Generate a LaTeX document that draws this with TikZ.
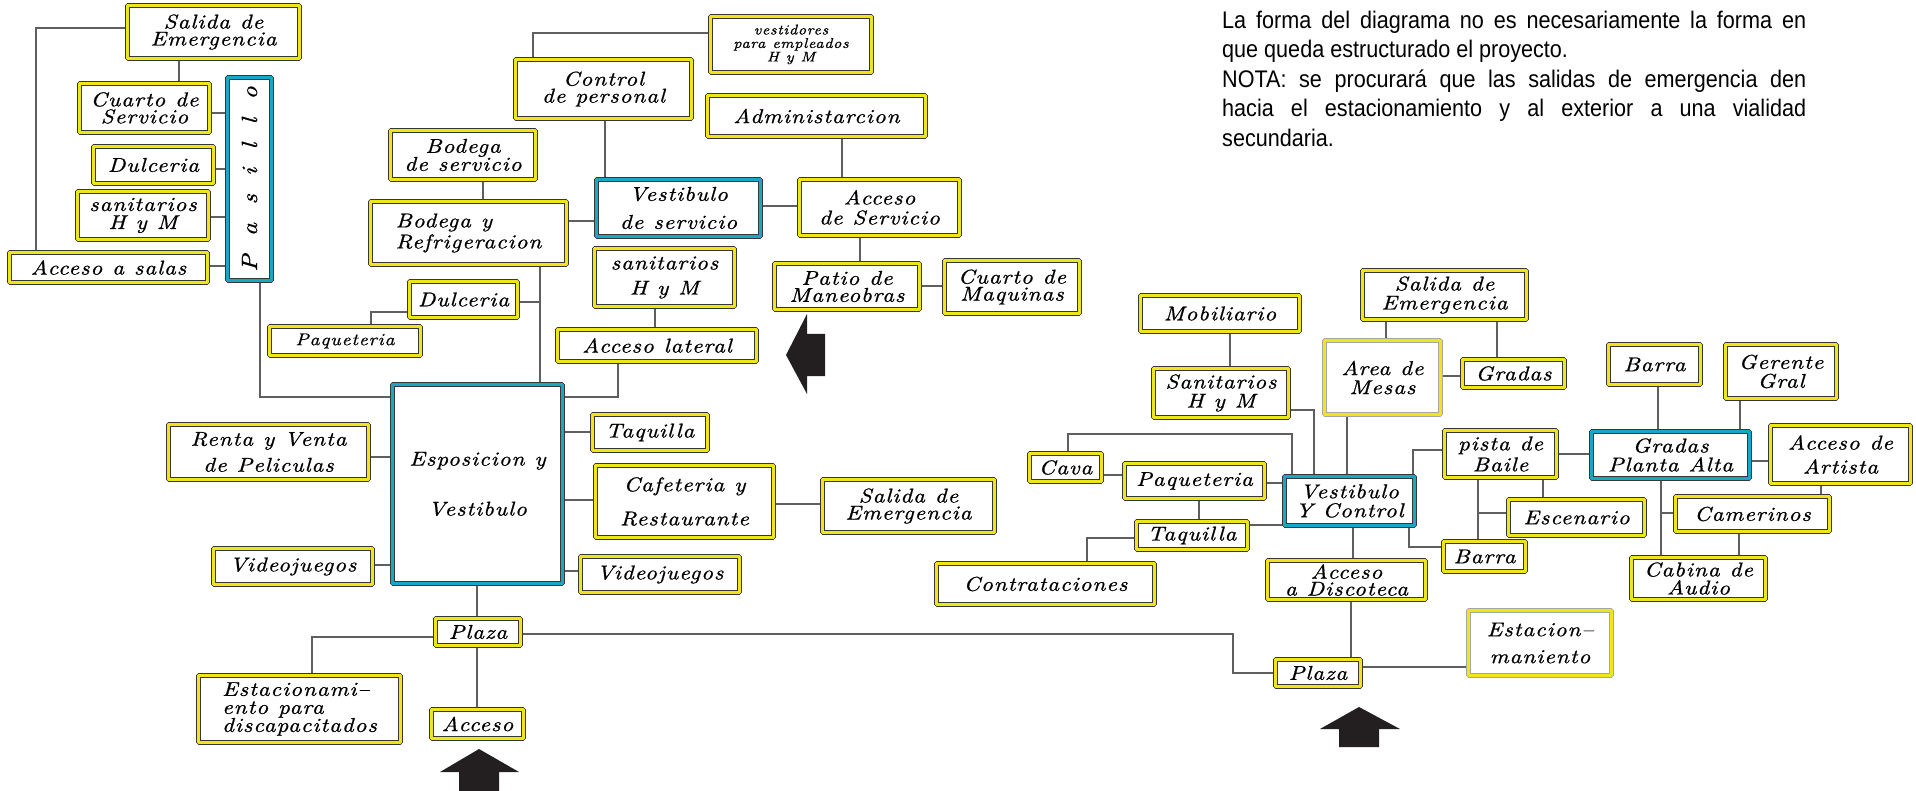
\documentclass[tikz,border=0pt]{standalone}
\usepackage{fontspec}
\usepackage{graphicx}
\usetikzlibrary{backgrounds, positioning}
\newfontfamily\boxfont{lmroman10-italic.otf}[LetterSpace=5, FakeStretch=1.15, FakeBold=0.8]
\newfontfamily\notefont{Liberation Sans}[FakeStretch=0.9]
\newcommand\boxspacing{\lineskiplimit=-50pt\relax\lineskip=0pt\relax\spaceskip=0.5em\relax}
\newcommand\pgap{\hspace{18.5pt}}
\definecolor{boxyellow}{RGB}{238,230,25}
\definecolor{boxblue}{RGB}{22,168,196}
\definecolor{boxline}{RGB}{55,55,55}
\definecolor{linkgray}{RGB}{95,95,95}
\definecolor{arrowblk}{RGB}{35,31,32}

\begin{document}
\begin{tikzpicture}[x=1pt, y=-1pt, line join=bevel,
    ybox/.style={draw=boxline, line width=0.8pt, double=boxyellow, double distance=3.6pt,
      fill=white, inner sep=0pt, align=center,
      font=\boxfont\fontsize{20pt}{20pt}\selectfont\boxspacing},
    bbox/.style={ybox, double=boxblue},
    lbox/.style={ybox, draw=black!35},
    wh/.style 2 args={minimum width=#1pt, minimum height=#2pt},
    ls/.style 2 args={font=\boxfont\fontsize{#1pt}{#2pt}\selectfont\boxspacing},
    link/.style={draw=linkgray, line width=1.2pt}]
             \useasboundingbox (0,0) rectangle (1916,791);
             %
             \node[ybox, wh={172}{53}, ls={20}{17}] (salidaA) at (213.5,32) {Salida de\\Emergencia};
             \node[ybox, wh={130}{49}, ls={20}{17}] (cuartoS) at (144.5,108) {Cuarto de\\Servicio};
             \node[ybox, wh={120}{37}] (dulceA) at (153.5,165) {Dulceria};
             \node[ybox, wh={131}{48}, ls={20}{18}] (sanitA) at (143,215.5) {sanitarios\\H y M};
             \node[ybox, wh={198}{30}] (accSalas) at (108.5,267.5) {Acceso a salas};
             \node[bbox, wh={44}{203}, ls={22}{22}] (pasillo) at (249.5,179)
               {\rotatebox{90}{P\pgap a\pgap s\pgap i\pgap l\pgap l\pgap o}};
             %
             \node[ybox, wh={176}{59}, ls={20}{17}] (control) at (603.5,89) {Control\\de personal};
             \node[ybox, wh={161}{56}, ls={14}{13.5}] (vestidores) at (791,44.5) {vestidores\\para empleados\\H y M};
             \node[ybox, wh={145}{49}, ls={20}{18}] (bodegaS) at (463,155) {Bodega\\de servicio};
             \node[bbox, wh={164}{57}, ls={20}{28}] (vestS) at (678.5,208) {Vestibulo\\de servicio};
             \node[ybox, wh={196}{63}, ls={20}{21}, align=left] (bodegaR) at (468.5,233) {Bodega y\\Refrigeracion};
             \node[ybox, wh={218}{41}] (admin) at (816.5,116) {Administarcion};
             \node[ybox, wh={160}{56}, ls={20}{20}] (accServ) at (879.5,207.5) {Acceso\\de Servicio};
             \node[ybox, wh={145}{46}, ls={20}{17}] (patio) at (847,286.5) {Patio de\\Maneobras};
             \node[ybox, wh={135}{53}, ls={20}{17}] (cuartoM) at (1012,287) {Cuarto de\\Maquinas};
             \node[ybox, wh={140}{58}, ls={20}{25}] (sanitB) at (664.5,277.5) {sanitarios\\H y M};
             \node[ybox, wh={108}{36}] (dulceB) at (463.5,299.5) {Dulceria};
             \node[ybox, wh={151}{29}, ls={17}{17}] (paqA) at (345,341) {Paqueteria};
             \node[ybox, wh={199}{32}] (accLat) at (657,345.5) {Acceso lateral};
             %
             \node[bbox, wh={170}{199}, ls={20}{50}] (expo) at (477.5,484) {Esposicion y\\Vestibulo};
             \node[ybox, wh={200}{55}, ls={20}{26}] (renta) at (268.5,452) {Renta y Venta\\de Peliculas};
             \node[ybox, wh={115}{36}] (taqA) at (650,432.5) {Taquilla};
             \node[ybox, wh={178}{72}, ls={20}{34}] (cafe) at (684.5,501.5) {Cafeteria y\\Restaurante};
             \node[ybox, wh={172}{53}, ls={20}{17}] (salidaB) at (908.5,506) {Salida de\\Emergencia};
             \node[ybox, wh={159}{36}] (videoA) at (293,566.5) {Videojuegos};
             \node[ybox, wh={159}{36}] (videoB) at (660,574.5) {Videojuegos};
             \node[ybox, wh={85}{27}] (plazaA) at (478,632) {Plaza};
             \node[ybox, wh={202}{67}, ls={20}{18}, align=left] (estacA) at (299.5,709) {Estacionami–\\ento para\\discapacitados};
             \node[ybox, wh={92}{29}] (acceso) at (477.5,724) {Acceso};
             %
             \node[ybox, wh={159}{36}] (mobil) at (1220,313.5) {Mobiliario};
             \node[ybox, wh={135}{49}, ls={20}{19}] (sanitC) at (1221,393) {Sanitarios\\H y M};
             \node[ybox, wh={164}{49}, ls={20}{19}] (salidaC) at (1444.5,295) {Salida de\\Emergencia};
             \node[lbox, wh={116}{74}, ls={20}{19}] (mesas) at (1382.5,377.5) {Area de\\Mesas};
             \node[ybox, wh={102}{28}] (gradas) at (1513.5,373.5) {Gradas};
             \node[ybox, wh={72}{28}] (cava) at (1065.5,467.5) {Cava};
             \node[ybox, wh={140}{35}] (paqB) at (1194.5,481) {Paqueteria};
             \node[bbox, wh={130}{49}, ls={20}{19}] (vyc) at (1349.5,501) {Vestibulo\\Y Control};
             \node[ybox, wh={111}{28}] (taqB) at (1192,535.5) {Taquilla};
             \node[ybox, wh={218}{41}] (contrat) at (1045.5,584) {Contrataciones};
             \node[ybox, wh={158}{39}, ls={20}{17}] (accDisc) at (1346.5,580) {Acceso\\a Discoteca};
             \node[ybox, wh={85}{27}] (plazaB) at (1318,673) {Plaza};
             \node[lbox, wh={143}{65}, ls={20}{27}] (estacB) at (1540,643) {Estacion–\\maniento};
             \node[ybox, wh={112}{47}, ls={20}{21}] (pista) at (1500.5,454) {pista de\\Baile};
             \node[ybox, wh={82}{30}] (barraB) at (1484.5,556.5) {Barra};
             \node[ybox, wh={136}{36}] (escen) at (1576.5,517.5) {Escenario};
             \node[bbox, wh={158}{47}, ls={20}{19}] (gpa) at (1670.5,455) {Gradas\\Planta Alta};
             \node[ybox, wh={92}{40}] (barraA) at (1654.5,364.5) {Barra};
             \node[ybox, wh={111}{54}, ls={20}{19}] (gerente) at (1781,371.5) {Gerente\\Gral};
             \node[ybox, wh={140}{58}, ls={20}{24}] (artista) at (1840.5,454.5) {Acceso de\\Artista};
             \node[ybox, wh={154}{35}] (camer) at (1752.5,514) {Camerinos};
             \node[ybox, wh={134}{42}, ls={20}{18}] (cabina) at (1698.5,578.5) {Cabina de\\Audio};
             %
             \node[anchor=north west, inner sep=0pt, align=left,
               font=\notefont\fontsize{24pt}{29.5pt}\selectfont] (nota) at (1222,10.5)
               {\makebox[584pt][s]{La forma del diagrama no es necesariamente la forma en}\\
                que queda estructurado el proyecto.\\
                \makebox[584pt][s]{NOTA: se procurará que las salidas de emergencia den}\\
                \makebox[584pt][s]{hacia el estacionamiento y al exterior a una vialidad}\\
                secundaria.};
             %
             \begin{scope}[on background layer]
             \draw[link] (salidaA.west |- 0,28) -| (accSalas.north -| 36,0);
             \draw[link] (salidaA.south -| 179,0) -- (cuartoS.north -| 179,0);
             \draw[link] (cuartoS.east |- 0,113) -- (pasillo.west |- 0,113);
             \draw[link] (dulceA.east |- 0,169) -- (pasillo.west |- 0,169);
             \draw[link] (sanitA.east |- 0,217) -- (pasillo.west |- 0,217);
             \draw[link] (accSalas.east |- 0,266) -- (pasillo.west |- 0,266);
             \draw[link] (pasillo.south -| 260,0) |- (expo.west |- 0,397);
             %
             \draw[link] (vestidores.west |- 0,33) -| (control.north -| 533,0);
             \draw[link] (control.south -| 605,0) -- (vestS.north -| 605,0);
             \draw[link] (bodegaS.south -| 483,0) -- (bodegaR.north -| 483,0);
             \draw[link] (bodegaR.east |- 0,221) -- (vestS.west |- 0,221);
             \draw[link] (vestS.east |- 0,206) -- (accServ.west |- 0,206);
             \draw[link] (admin.south -| 842,0) -- (accServ.north -| 842,0);
             \draw[link] (accServ.south -| 860,0) -- (patio.north -| 860,0);
             \draw[link] (patio.east |- 0,286) -- (cuartoM.west |- 0,286);
             \draw[link] (bodegaR.south -| 540,0) -- (expo.north -| 540,0);
             \draw[link] (dulceB.east |- 0,302) -| (bodegaR.south -| 540,0);
             \draw[link] (dulceB.west |- 0,312) -| (paqA.north -| 371,0);
             \draw[link] (sanitB.south -| 655,0) -- (accLat.north -| 655,0);
             \draw[link] (accLat.south -| 618,0) |- (expo.east |- 0,397);
             %
             \draw[link] (renta.east |- 0,457) -- (expo.west |- 0,457);
             \draw[link] (expo.east |- 0,432) -- (taqA.west |- 0,432);
             \draw[link] (expo.east |- 0,500) -- (cafe.west |- 0,500);
             \draw[link] (cafe.east |- 0,504) -- (salidaB.west |- 0,504);
             \draw[link] (videoA.east |- 0,565) -- (expo.west |- 0,565);
             \draw[link] (expo.east |- 0,571) -- (videoB.west |- 0,571);
             \draw[link] (expo.south -| 477,0) -- (plazaA.north -| 477,0);
             \draw[link] (plazaA.south -| 477,0) -- (acceso.north -| 477,0);
             \draw[link] (plazaA.west |- 0,637) -| (estacA.north -| 312,0);
             \draw[link] (plazaA.east |- 0,634) -| (plazaB.west -| 1233,0) -- (plazaB.west);
             %
             \draw[link] (mobil.south -| 1230,0) -- (sanitC.north -| 1230,0);
             \draw[link] (sanitC.east |- 0,410) -| (vyc.north -| 1314,0);
             \draw[link] (cava.north -| 1068,0) |- (1292,434) -- (vyc.north -| 1292,0);
             \draw[link] (cava.east |- 0,475) -- (paqB.west |- 0,475);
             \draw[link] (paqB.east |- 0,483) -- (vyc.west |- 0,483);
             \draw[link] (paqB.south -| 1199,0) -- (taqB.north -| 1199,0);
             \draw[link] (taqB.east |- 0,525) -- (vyc.west |- 0,525);
             \draw[link] (taqB.west |- 0,538) -| (contrat.north -| 1087,0);
             \draw[link] (mesas.south -| 1347,0) -- (vyc.north -| 1347,0);
             \draw[link] (salidaC.south -| 1386,0) -- (mesas.north -| 1386,0);
             \draw[link] (salidaC.south -| 1497,0) -- (gradas.north -| 1497,0);
             \draw[link] (mesas.east |- 0,376) -- (gradas.west |- 0,376);
             \draw[link] (vyc.south -| 1353,0) -- (accDisc.north -| 1353,0);
             \draw[link] (accDisc.south -| 1351,0) -- (plazaB.north -| 1351,0);
             \draw[link] (plazaB.east |- 0,667) -- (estacB.west |- 0,667);
             \draw[link] (vyc.north -| 1413,0) |- (pista.west |- 0,450);
             \draw[link] (vyc.south -| 1409,0) |- (barraB.west |- 0,547);
             \draw[link] (pista.east |- 0,454) -- (gpa.west |- 0,454);
             \draw[link] (pista.south -| 1478,0) -- (barraB.north -| 1478,0);
             \draw[link] (pista.south -| 1478,0) |- (escen.west |- 0,513);
             \draw[link] (pista.south -| 1543,0) -- (escen.north -| 1543,0);
             \draw[link] (barraA.south -| 1658,0) -- (gpa.north -| 1658,0);
             \draw[link] (gerente.south -| 1740,0) -- (gpa.north -| 1740,0);
             \draw[link] (gpa.east |- 0,461) -- (artista.west |- 0,461);
             \draw[link] (artista.south -| 1821,0) -- (camer.north -| 1821,0);
             \draw[link] (gpa.south -| 1661,0) -- (cabina.north -| 1661,0);
             \draw[link] (gpa.south -| 1661,0) |- (camer.west |- 0,513);
             \draw[link] (camer.south -| 1739,0) -- (cabina.north -| 1739,0);
             \end{scope}
             %
             \fill[arrowblk] (479,749) -- (519,772) -- (499,772) -- (499,791) -- (459,791) -- (459,772) -- (440,772) -- cycle;
             \fill[arrowblk] (786,355) -- (807,314) -- (807,334) -- (825,334) -- (825,376) -- (807,376) -- (807,394) -- cycle;
             \fill[arrowblk] (1359,707) -- (1400,729) -- (1379,729) -- (1379,747) -- (1339,747) -- (1339,729) -- (1320,729) -- cycle;
\end{tikzpicture}
\end{document}
